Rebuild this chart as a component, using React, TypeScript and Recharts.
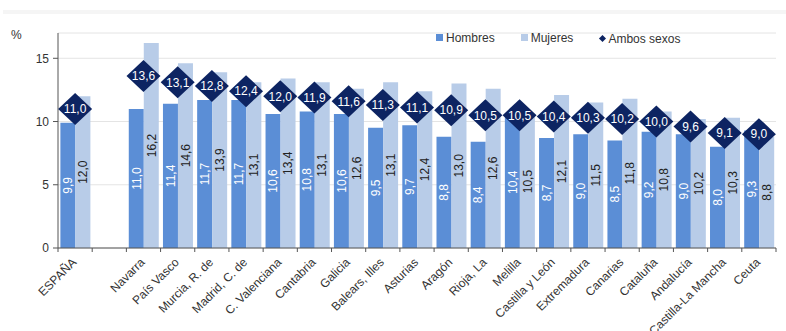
import React from "react";
import { ComposedChart, Bar, Line, XAxis, YAxis, CartesianGrid, LabelList, Legend } from "recharts";

const regions = [
  "ESPAÑA", "", "Navarra", "País Vasco", "Murcia, R. de", "Madrid, C. de", "C. Valenciana",
  "Cantabria", "Galicia", "Balears, Illes", "Asturias", "Aragón", "Rioja,  La", "Melilla",
  "Castilla y León", "Extremadura", "Canarias", "Cataluña", "Andalucía", "Castilla-La Mancha", "Ceuta",
];
const hombres = [9.9, null, 11.0, 11.4, 11.7, 11.7, 10.6, 10.8, 10.6, 9.5, 9.7, 8.8, 8.4, 10.4, 8.7, 9.0, 8.5, 9.2, 9.0, 8.0, 9.3];
const mujeres = [12.0, null, 16.2, 14.6, 13.9, 13.1, 13.4, 13.1, 12.6, 13.1, 12.4, 13.0, 12.6, 10.5, 12.1, 11.5, 11.8, 10.8, 10.2, 10.3, 8.8];
const ambos = [11.0, null, 13.6, 13.1, 12.8, 12.4, 12.0, 11.9, 11.6, 11.3, 11.1, 10.9, 10.5, 10.5, 10.4, 10.3, 10.2, 10.0, 9.6, 9.1, 9.0];
const yTicks = [0, 5, 10, 15];

const data = regions.map((name, i) => ({ name, hombres: hombres[i], mujeres: mujeres[i], ambos: ambos[i] }));

const W = 786;
const H = 331;
const margin = { top: 33, right: 10, left: 0, bottom: 23 };
const Y_W = 58;
const band = (W - margin.left - margin.right - Y_W) / regions.length;

const C_H = "#5b8ed6";
const C_M = "#b8cce8";
const C_A = "#0d2462";
const FONT = "'Liberation Sans', Arial, sans-serif";

const fmt = (v: any) => (v == null ? "" : Number(v).toFixed(1).replace(".", ","));

function RegionTick(props: any) {
  const { x, y, payload, index } = props;
  const y0 = y - 6;
  return (
    <g>
      <line x1={x - band / 2} x2={x - band / 2} y1={y0} y2={y0 + 4} stroke="#555" />
      {index === regions.length - 1 && (
        <line x1={x + band / 2} x2={x + band / 2} y1={y0} y2={y0 + 4} stroke="#555" />
      )}
      <text
        x={x + 2}
        y={y + 9}
        textAnchor="end"
        fontSize={12}
        fill="#333"
        transform={`rotate(-45, ${x + 2}, ${y + 9})`}
      >
        {payload.value}
      </text>
    </g>
  );
}

function Diamond(props: any) {
  const { cx, cy, payload } = props;
  if (cx == null || cy == null || payload?.ambos == null) return <g />;
  return (
    <g>
      <path d={`M${cx},${cy - 16} L${cx + 17},${cy} L${cx},${cy + 16} L${cx - 17},${cy} Z`} fill={C_A} />
      <text x={cx} y={cy} dy="0.36em" textAnchor="middle" fontSize={12} fill="#fff">
        {fmt(payload.ambos)}
      </text>
    </g>
  );
}

function LegendBox() {
  const item = (label: string, mark: React.ReactNode, gap: number) => (
    <span style={{ display: "inline-flex", alignItems: "center", marginRight: gap }}>
      {mark}
      <span style={{ marginLeft: 3 }}>{label}</span>
    </span>
  );
  return (
    <div style={{ fontFamily: FONT, fontSize: 12, color: "#333", whiteSpace: "nowrap" }}>
      {item("Hombres", <span style={{ width: 7, height: 7, background: C_H, display: "inline-block" }} />, 26)}
      {item("Mujeres", <span style={{ width: 7, height: 7, background: C_M, display: "inline-block" }} />, 27)}
      {item(
        "Ambos sexos",
        <span style={{ width: 5, height: 5, background: C_A, display: "inline-block", transform: "rotate(45deg)" }} />,
        0
      )}
    </div>
  );
}

export default function App() {
  return (
    <div style={{ position: "absolute", left: 0, top: 0, width: W, height: H, background: "#fff", fontFamily: FONT }}>
      <div style={{ position: "absolute", left: 3, right: 0, top: 10, height: 4, background: "#f5f5f5" }} />
      <div style={{ position: "absolute", left: 11, top: 28, fontSize: 12, color: "#333" }}>%</div>
      <ComposedChart
        width={W}
        height={H}
        data={data}
        margin={margin}
        barCategoryGap="7%"
        barGap={0}
        style={{ fontFamily: FONT }}
      >
        <CartesianGrid vertical={false} stroke="#e4e4e4" />
        <XAxis
          dataKey="name"
          interval={0}
          height={60}
          tickLine={false}
          tickSize={4}
          tickMargin={2}
          axisLine={{ stroke: "#555" }}
          tick={<RegionTick />}
        />
        <YAxis
          width={Y_W}
          domain={[0, 17]}
          ticks={yTicks}
          tickSize={5}
          tickMargin={4}
          axisLine={{ stroke: "#555" }}
          tickLine={{ stroke: "#555" }}
          tick={{ fontSize: 12, fill: "#333" }}
        />
        <Legend
          layout="vertical"
          verticalAlign="middle"
          align="center"
          content={<LegendBox />}
          wrapperStyle={{ top: 30, left: 436, width: 320, bottom: "auto", right: "auto" }}
        />
        <Bar dataKey="hombres" name="Hombres" fill={C_H} isAnimationActive={false}>
          <LabelList dataKey="hombres" position="center" angle={-90} formatter={fmt} fill="#fff" fontSize={12} />
        </Bar>
        <Bar dataKey="mujeres" name="Mujeres" fill={C_M} isAnimationActive={false}>
          <LabelList dataKey="mujeres" position="center" angle={-90} formatter={fmt} fill="#222" fontSize={12} />
        </Bar>
        <Line
          dataKey="ambos"
          name="Ambos sexos"
          stroke="none"
          dot={<Diamond />}
          activeDot={false}
          isAnimationActive={false}
        />
      </ComposedChart>
    </div>
  );
}
